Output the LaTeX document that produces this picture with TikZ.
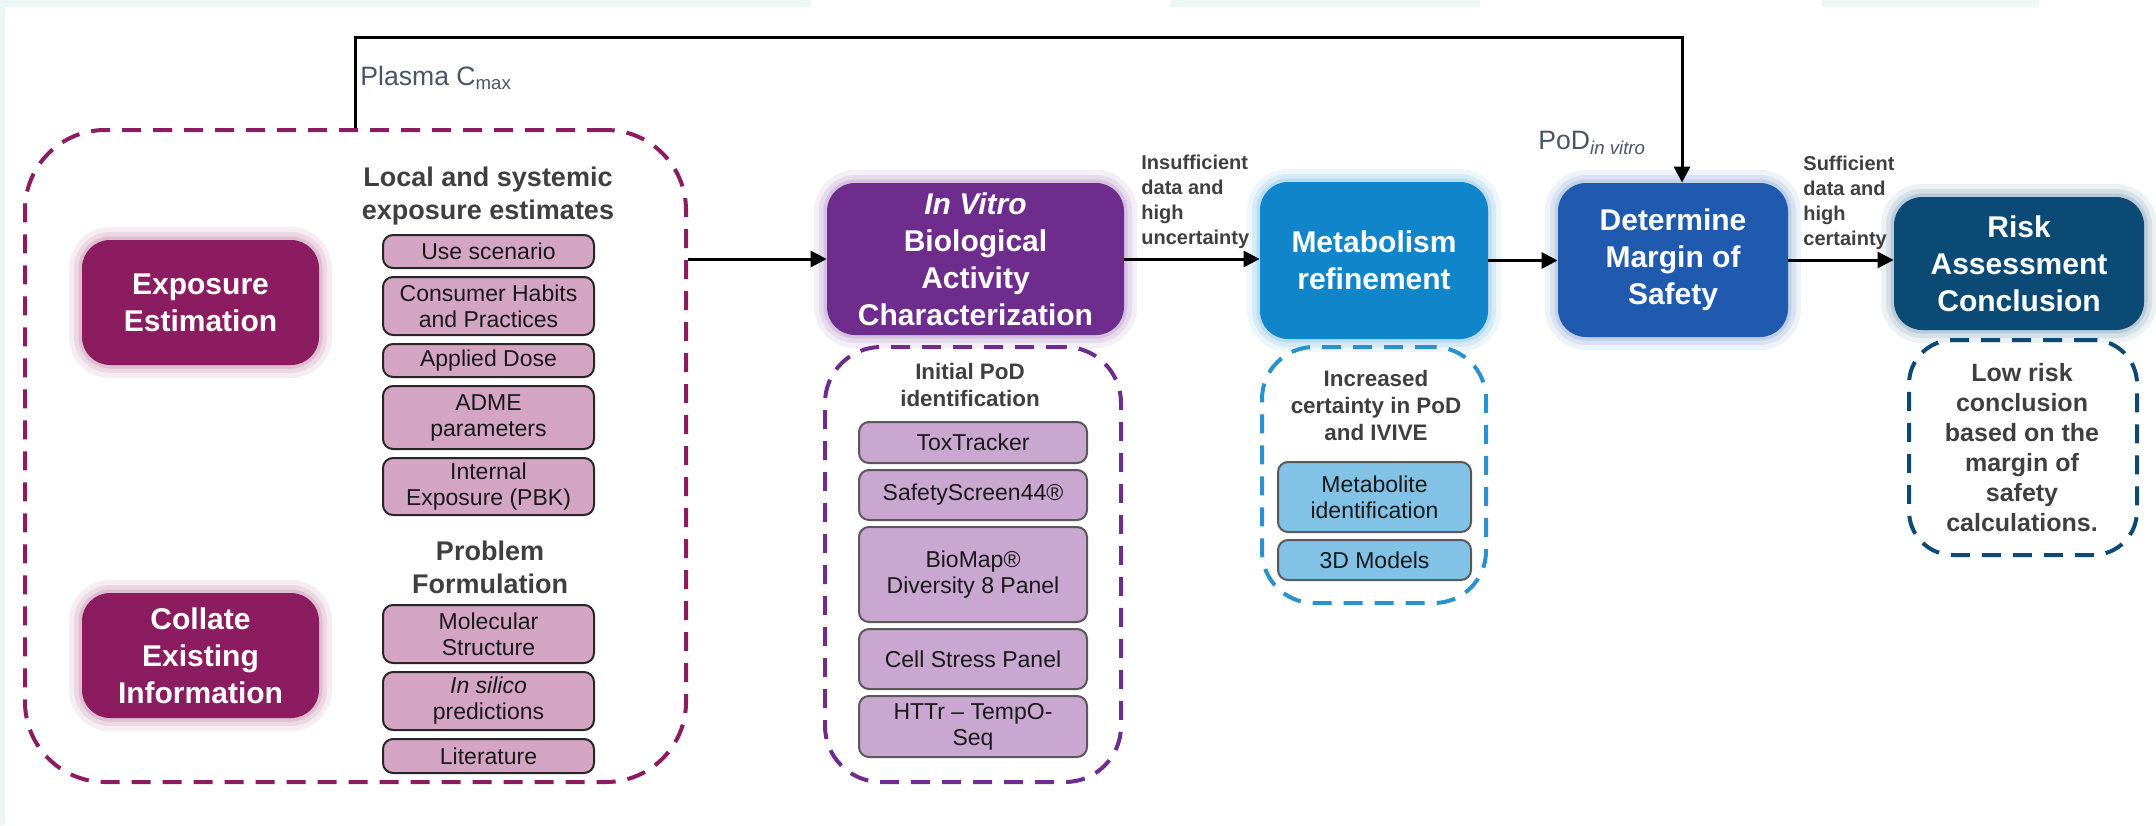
\documentclass[tikz,border=0pt]{standalone}
\usepackage{fontspec}
\setmainfont{Liberation Sans}
\usetikzlibrary{positioning, arrows.meta}

\definecolor{expocol}{HTML}{8B1C5F}
\definecolor{vitrocol}{HTML}{6E2C8C}
\definecolor{metabcol}{HTML}{1185C9}
\definecolor{detcol}{HTML}{1F5AAE}
\definecolor{riskcol}{HTML}{0C4A76}
\definecolor{pinkitem}{HTML}{D3A5C3}
\definecolor{lavitem}{HTML}{C9A7D1}
\definecolor{blueitem}{HTML}{82C2E6}
\definecolor{hdrgray}{HTML}{3F3F3F}
\definecolor{notegray}{HTML}{4A5468}
\definecolor{paleband}{HTML}{EAF7F5}

\tikzset{
  stage/.style={rounded corners=14pt, inner sep=0pt, align=center, text=white,
    font=\fontsize{15}{18.5}\selectfont\bfseries},
  glow/.style={preaction={draw=#1!55, line width=13pt, opacity=.14},
    preaction={draw=#1!55, line width=8pt, opacity=.2},
    preaction={draw=#1!55, line width=3.5pt, opacity=.3}},
  group/.style={draw=#1, line width=2pt, dash pattern=on 9.5pt off 6pt, inner sep=0pt},
  item/.style={draw=black!85, fill=#1, line width=1pt, rounded corners=5pt, inner sep=0pt,
    align=center, text=black!90, font=\fontsize{11.5}{13}\selectfont},
  expoitem/.style={item=pinkitem, minimum width=105.5pt},
  vitroitem/.style={item=lavitem, draw=black!65, minimum width=114pt},
  metabitem/.style={item=blueitem, draw=black!65, minimum width=96.5pt},
  hdr/.style={align=center, text=hdrgray, font=\fontsize{13.5}{16.5}\selectfont\bfseries},
  subhdr/.style={align=center, text=hdrgray, font=\fontsize{11.2}{13.5}\selectfont\bfseries},
  lbl/.style={align=left, text=hdrgray, inner sep=0pt, font=\fontsize{10}{12.5}\selectfont\bfseries},
  note/.style={text=notegray, inner sep=0pt, font=\fontsize{13.3}{16}\selectfont},
  flow/.style={line width=1.5pt, -{Triangle[length=8pt,width=8pt]}}
}

\begin{document}
\begin{tikzpicture}[x=0.5pt, y=-0.5pt, node distance=3.5pt]
\useasboundingbox (0,0) rectangle (2156,825);
% pale strips at the page edge
\fill[paleband] (0,0) rectangle (811,7) (1171,0) rectangle (1480,7)
  (1822,0) rectangle (2039,7) (0,0) rectangle (5,825);

% exposure and problem formulation
\node[group=expocol, rounded corners=40pt, minimum width=330.5pt, minimum height=326pt] (expogrp) at (355.5,456) {};
\node[stage, fill=expocol, glow=expocol, minimum width=118.5pt, minimum height=62.5pt] (expo) at (200.5,302.5) {Exposure\\Estimation};
\node[stage, fill=expocol, glow=expocol, minimum width=118.5pt, minimum height=62.5pt] (collate) at (200.5,655.5) {Collate\\Existing\\Information};

\node[hdr] (localhdr) at (488,196) {Local and systemic\\exposure estimates};
\node[expoitem, minimum height=16.5pt] (usesc) at (488.5,251.5) {Use scenario};
\node[expoitem, minimum height=29pt, below=of usesc] (habits) {Consumer Habits\\and Practices};
\node[expoitem, minimum height=16.5pt, below=of habits] (dose) {Applied Dose};
\node[expoitem, minimum height=31.5pt, below=of dose] (adme) {ADME\\parameters};
\node[expoitem, minimum height=28.5pt, below=of adme] (pbk) {Internal\\Exposure (PBK)};

\node[hdr] (probhdr) at (490,567) {Problem\\Formulation};
\node[expoitem, minimum height=29pt] (molec) at (488.5,634) {Molecular\\Structure};
\node[expoitem, minimum height=29pt, below=of molec] (insilico) {\itshape In silico\\predictions};
\node[expoitem, minimum height=17pt, below=of insilico] (lit) {Literature};

% in vitro characterization
\node[stage, fill=vitrocol, glow=vitrocol, minimum width=148.5pt, minimum height=76pt] (invitro) at (975.5,259) {\itshape In Vitro\\Biological\\Activity\\Characterization};
\node[group=vitrocol, rounded corners=28pt, minimum width=148pt, minimum height=217.5pt] (vitrogrp) at (973,564.5) {};
\node[subhdr] (podhdr) at (970,385) {Initial PoD\\identification};
\node[vitroitem, minimum height=20.5pt] (tox) at (973,442.5) {ToxTracker};
\node[vitroitem, minimum height=25pt, below=2.5pt of tox] (safety) {SafetyScreen44®};
\node[vitroitem, minimum height=47.5pt, below=2.5pt of safety] (biomap) {BioMap®\\Diversity 8 Panel};
\node[vitroitem, minimum height=30pt, below=2.5pt of biomap] (stress) {Cell Stress Panel};
\node[vitroitem, minimum height=30.5pt, below=2.5pt of stress] (httr) {HTTr – TempO-\\Seq};

% metabolism
\node[stage, fill=metabcol, glow=metabcol, minimum width=114pt, minimum height=78.5pt] (metab) at (1374,260.5) {Metabolism\\refinement};
\node[group=metabcol!90!white, rounded corners=26pt, minimum width=112pt, minimum height=128pt] (metabgrp) at (1374,475) {};
\node[subhdr] (ivivehdr) at (1376,405) {Increased\\certainty in PoD\\and IVIVE};
\node[metabitem, minimum height=35pt] (metid) at (1374.5,497) {Metabolite\\identification};
\node[metabitem, minimum height=20pt, below=3pt of metid] (models) {3D Models};

% margin of safety and conclusion
\node[stage, fill=detcol, glow=detcol, minimum width=115pt, minimum height=77pt] (determine) at (1673,260) {Determine\\Margin of\\Safety};
\node[stage, fill=riskcol, glow=riskcol, minimum width=125pt, minimum height=66.5pt] (risk) at (2019,263.5) {Risk\\Assessment\\Conclusion};
\node[group=riskcol, rounded corners=22pt, minimum width=114pt, minimum height=107.5pt] (riskgrp) at (2023,447.5) {};
\node[hdr, font=\fontsize{12.5}{15}\selectfont\bfseries] (riskmsg) at (2022,448) {Low risk\\conclusion\\based on the\\margin of\\safety\\calculations.};

% connectors
\coordinate (ceil) at (0,37);
\coordinate (podin) at ([xshift=4.5pt]determine.north);
\draw[flow] (expogrp.north) |- (ceil -| podin) -- (podin);
\draw[flow] (expogrp.east |- invitro.west) -- (invitro.west);
\draw[flow] (invitro.east) -- (invitro.east -| metab.west);
\draw[flow] (metab.east) -- (metab.east -| determine.west);
\draw[flow] (determine.east) -- (determine.east -| risk.west);

\node[note, anchor=west] (cmax) at (360,78) {Plasma C\textsubscript{max}};
\node[note, anchor=west] (podvitro) at (1538,143) {PoD\textsubscript{\itshape in vitro}};
\node[lbl, anchor=west] (insuff) at (1141,202) {Insufficient\\data and\\high\\uncertainty};
\node[lbl, anchor=west] (suff) at (1803,203) {Sufficient\\data and\\high\\certainty};
\end{tikzpicture}
\end{document}
